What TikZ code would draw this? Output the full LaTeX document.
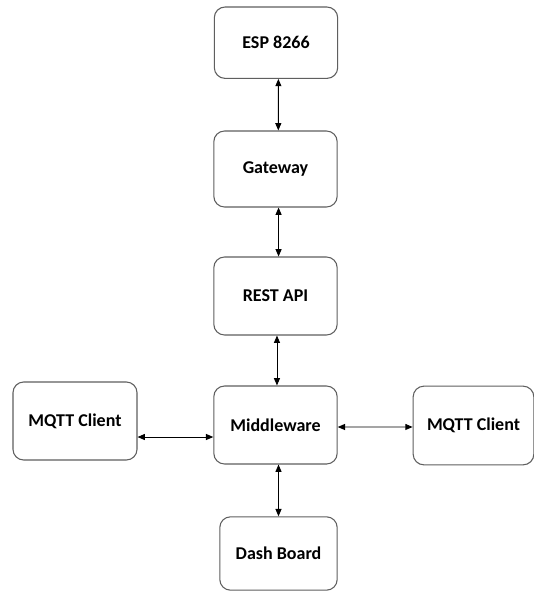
\documentclass[tikz,border=0pt]{standalone}
\usepackage{fontspec}
\setmainfont{Carlito}
\usetikzlibrary{arrows.meta}
\definecolor{boxline}{RGB}{95,95,95}
\tikzset{
  block/.style={draw=boxline, line width=0.8pt, rounded corners=8pt,
    fill=white, align=center, inner sep=0pt,
    font=\fontsize{13.5}{16}\selectfont\bfseries},
  link/.style={line width=0.7pt, draw=black,
    {Triangle[length=5.5pt,width=4.5pt]}-{Triangle[length=5.5pt,width=4.5pt]}}
}
\begin{document}
\begin{tikzpicture}[x=0.75pt, y=-0.75pt]
  \useasboundingbox (0,0) rectangle (534,592);
  \fill[white] (0,0) rectangle (534,592);

  \node[block, minimum width=92.5pt, minimum height=53.5pt] (esp) at (276,42.7) {ESP 8266};
  \node[block, minimum width=92.5pt, minimum height=57pt]   (gw)  at (275.5,169) {Gateway};
  \node[block, minimum width=92.5pt, minimum height=58.5pt] (api) at (275.5,296) {REST API};
  \node[block, minimum width=92.5pt, minimum height=58.5pt] (mid) at (275.5,425) {Middleware};
  \node[block, minimum width=88pt,   minimum height=55pt]   (dash) at (278.5,553.5) {Dash Board};
  \node[block, minimum width=93pt,   minimum height=58.5pt] (lm)  at (75,421) {MQTT Client};
  \node[block, minimum width=90.5pt, minimum height=59pt]   (rm)  at (473.5,425.5) {MQTT Client};

  \draw[link] ([xshift=1.8pt]esp.south) -- ([xshift=2.1pt]gw.north);
  \draw[link] ([xshift=2.3pt]gw.south) -- ([xshift=2.3pt]api.north);
  \draw[link] ([xshift=1.1pt]api.south) -- ([xshift=1.1pt]mid.north);
  \draw[link] (mid.south -| dash.north) -- (dash.north);
  \draw[link] ([yshift=-12pt]lm.east) -- ([yshift=-9pt]mid.west);
  \draw[link] ([yshift=-1.5pt]mid.east) -- ([yshift=-1.1pt]rm.west);
\end{tikzpicture}
\end{document}
